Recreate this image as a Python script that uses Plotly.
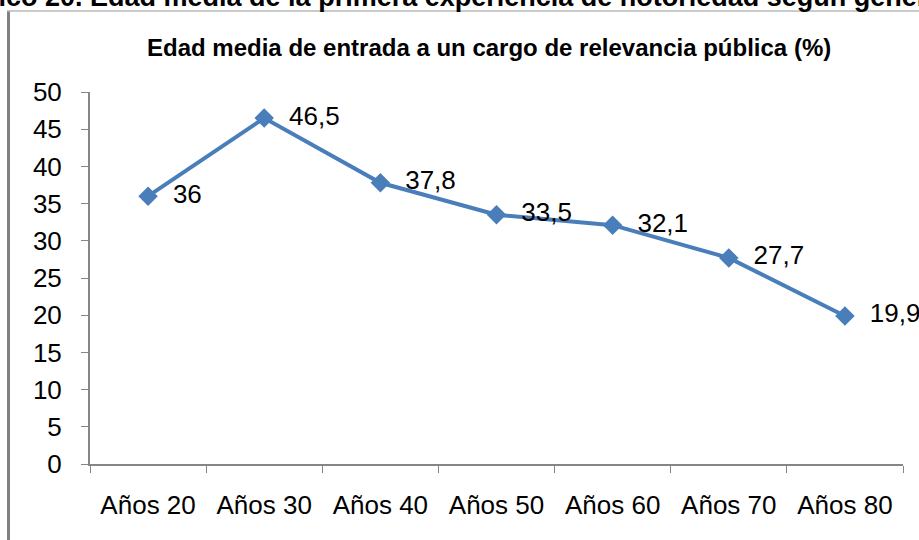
import plotly.graph_objects as go

categories = ["Años 20", "Años 30", "Años 40", "Años 50", "Años 60", "Años 70", "Años 80"]
values = [36, 46.5, 37.8, 33.5, 32.1, 27.7, 19.9]
labels = ["36", "46,5", "37,8", "33,5", "32,1", "27,7", "19,9"]
y_ticks = [0, 5, 10, 15, 20, 25, 30, 35, 40, 45, 50]

W, H = 919, 540
ML, MR, MT, MB = 90, 16, 92, 76
PW = W - ML - MR
PH = H - MT - MB

def px_x(p):
    return (p - ML) / PW

def px_y(p):
    return (H - MB - p) / PH

fig = go.Figure()
fig.add_trace(go.Scatter(
    x=categories, y=values, text=["  " + t for t in labels],
    mode="lines+markers+text", textposition="middle right",
    textfont=dict(family="Liberation Sans, Arial", size=26, color="#000000"),
    line=dict(color="#4A7EBB", width=4),
    marker=dict(symbol="diamond", size=15, color="#4A7EBB"),
    cliponaxis=False, showlegend=False,
))

fig.update_layout(
    width=W, height=H,
    margin=dict(l=ML, r=MR, t=MT, b=MB),
    paper_bgcolor="white", plot_bgcolor="white",
    font=dict(family="Liberation Sans, Arial", color="#000000"),
    xaxis=dict(
        type="category", showgrid=False, zeroline=False,
        showline=True, linecolor="#868686", linewidth=2,
        ticks="outside", tickson="boundaries", ticklen=7, tickcolor="#868686", tickwidth=1,
        tickfont=dict(size=26), ticklabelstandoff=17,
        range=[-0.5, 6.5],
    ),
    yaxis=dict(
        range=[0, 50], tickvals=y_ticks, showgrid=False, zeroline=False,
        showline=True, linecolor="#868686", linewidth=2,
        ticks="outside", ticklen=7, tickcolor="#868686", tickwidth=1,
        tickfont=dict(size=26), ticklabelstandoff=14,
    ),
    shapes=[
        dict(type="line", xref="paper", yref="paper",
             x0=px_x(8.5), x1=px_x(8.5), y0=px_y(11), y1=px_y(545),
             line=dict(color="#808080", width=3)),
        dict(type="line", xref="paper", yref="paper",
             x0=px_x(7), x1=px_x(930), y0=px_y(11), y1=px_y(11),
             line=dict(color="#B8B8B8", width=1.5)),
    ],
    annotations=[
        dict(text="<b>Edad media de entrada a un cargo de relevancia pública (%)</b>",
             xref="paper", yref="paper", x=px_x(489), y=px_y(47),
             xanchor="center", yanchor="middle", showarrow=False,
             font=dict(size=24, color="#000000")),
        dict(text="<b>Gráfico 20. Edad media de la primera experiencia de notoriedad según género</b>",
             xref="paper", yref="paper", x=px_x(-59), y=px_y(14),
             xanchor="left", yanchor="bottom", showarrow=False,
             font=dict(size=27, color="#000000")),
    ],
)

fig.write_html("out.html", config={"displayModeBar": False},
               post_script="document.body.style.margin='0';")
